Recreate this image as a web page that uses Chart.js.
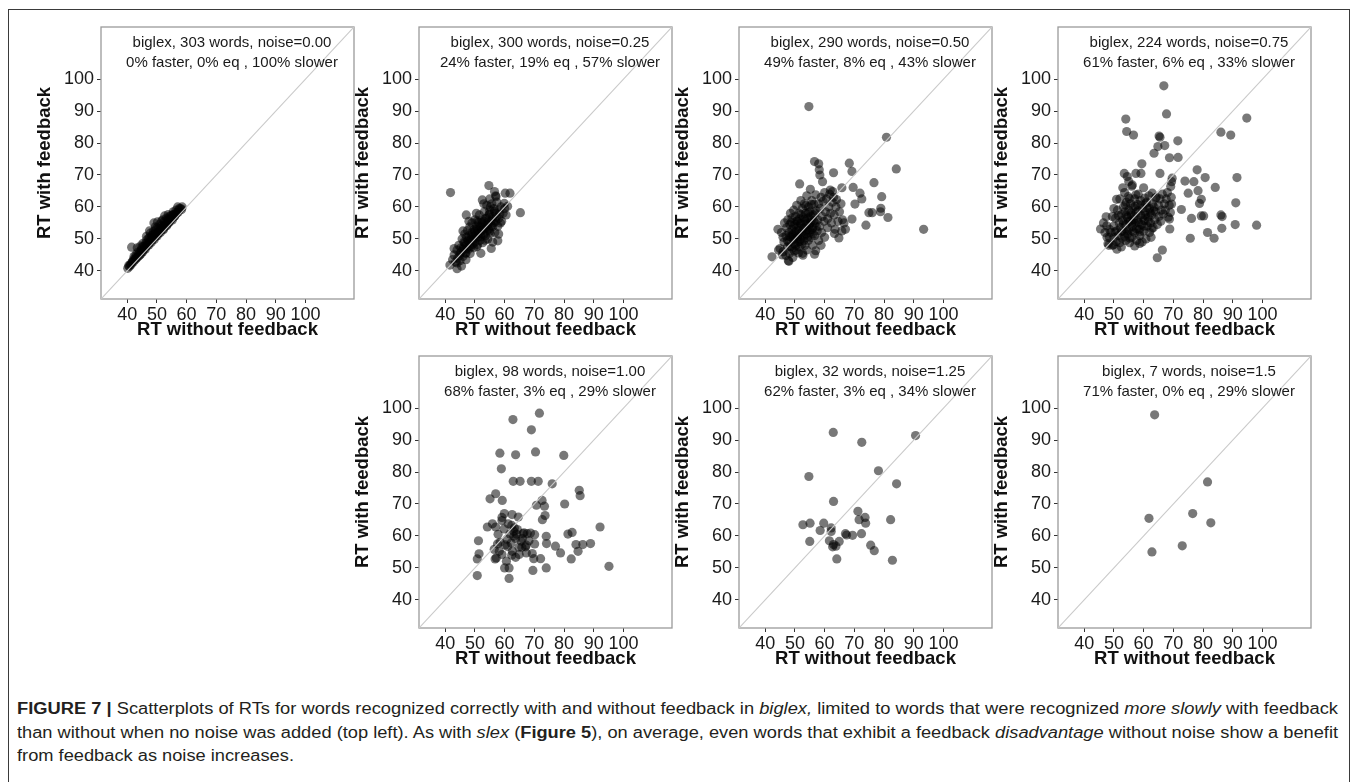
<!DOCTYPE html>
<html>
<head>
<meta charset="utf-8">
<script src="https://cdn.jsdelivr.net/npm/chart.js@4.4.0/dist/chart.umd.min.js"></script>
<style>
    body { margin: 0; width: 1358px; height: 782px; background: #fff; position: relative; overflow: hidden;
           font-family: "Liberation Sans", Arial, sans-serif; }
    #frame { position: absolute; left: 8px; top: 9px; width: 1342px; height: 820px; border: 1px solid #3a3a3a; box-sizing: border-box; }
    .panel { position: absolute; }
    .caption { position: absolute; left: 17px; font-size: 16px; line-height: 22px; color: #231f20;
               white-space: nowrap; transform-origin: left center; }
</style>
</head>
<body>
<div id="frame"></div>
<div class="panel" style="left:1px;top:0px"><canvas id="p1" width="363" height="344"></canvas></div>
<div class="panel" style="left:319px;top:0px"><canvas id="p2" width="363" height="344"></canvas></div>
<div class="panel" style="left:639px;top:0px"><canvas id="p3" width="363" height="344"></canvas></div>
<div class="panel" style="left:958px;top:0px"><canvas id="p4" width="363" height="344"></canvas></div>
<div class="panel" style="left:319px;top:329px"><canvas id="p5" width="363" height="344"></canvas></div>
<div class="panel" style="left:639px;top:329px"><canvas id="p6" width="363" height="344"></canvas></div>
<div class="panel" style="left:958px;top:329px"><canvas id="p7" width="363" height="344"></canvas></div>

<div class="caption" id="cap1" style="top:698px"><b>FIGURE 7 |</b> Scatterplots of RTs for words recognized correctly with and without feedback in <i>biglex,</i> limited to words that were recognized <i>more slowly</i> with feedback</div>
<div class="caption" id="cap2" style="top:721.5px">than without when no noise was added (top left). As with <i>slex</i> (<b>Figure 5</b>), on average, even words that exhibit a feedback <i>disadvantage</i> without noise show a benefit</div>
<div class="caption" id="cap3" style="top:745px">from feedback as noise increases.</div>

<script>
// ---- data ----
const axisMin = 31.2;
const axisMax = 116.3;
const tickValues = [40, 50, 60, 70, 80, 90, 100];
const xTitle = 'RT without feedback';
const yTitle = 'RT with feedback';

const noteTitles = [
    'biglex, 303 words, noise=0.00',
    'biglex, 300 words, noise=0.25',
    'biglex, 290 words, noise=0.50',
    'biglex, 224 words, noise=0.75',
    'biglex, 98 words, noise=1.00',
    'biglex, 32 words, noise=1.25',
    'biglex, 7 words, noise=1.5'
];
const noteStats = [
    '0% faster, 0% eq , 100% slower',
    '24% faster, 19% eq , 57% slower',
    '49% faster, 8% eq , 43% slower',
    '61% faster, 6% eq , 33% slower',
    '68% faster, 3% eq , 29% slower',
    '62% faster, 3% eq , 34% slower',
    '71% faster, 0% eq , 29% slower'
];

// [RT without feedback, RT with feedback]
const noise000 = [
    [40.2,40.8],[40.5,41.6],[41,42],[41.3,41.9],[41.5,47.4],[41.8,43],[42,42.7],[42.3,44.5],[42.6,43.4],[43,43.8],
    [43,45.2],[43.4,47.2],[43.8,44.6],[44,45.5],[44.3,46.2],[44.6,45.3],[45,46],[45,47.5],[45.3,48.6],[45.7,46.8],
    [46,47.2],[46.2,48.5],[46.5,49.6],[46.8,47.9],[47,48.4],[47.2,50.1],[47.5,52.5],[47.7,49],[48,49.5],[48.2,51],
    [48.5,49.8],[48.8,52.3],[49,50.4],[49,55],[49.3,51.6],[49.6,50.8],[50,51.4],[50,53.5],[50.3,52.2],[50.6,51.7],
    [51,52.5],[51,54.6],[51.3,53.2],[51.6,55.6],[52,53],[52,56],[52.3,54],[52.7,53.8],[53,55],[53.2,56.5],
    [53.5,54.6],[53.8,55.8],[54,55.2],[54.3,57],[54.6,56],[55,56.3],[55.3,57.5],[55.5,58.5],[55.8,57],[56.2,57.6],
    [56.5,58.2],[57,60],[57.4,59],[58,59.5],[58.3,59.2],
    [40.8,41.4],[41.6,42.6],[42.2,43.6],[42.8,44.2],[43.3,44.1],[43.6,45.8],[44.2,44.9],[44.8,46.6],[45.2,45.9],[45.6,47.6],
    [46.1,46.8],[46.4,48.1],[46.9,49],[47.3,48.1],[47.6,50.5],[48.1,48.9],[48.4,50.6],[48.7,51.4],[49.1,49.8],[49.4,52.6],
    [49.8,51.2],[50.1,50.9],[50.5,53.2],[50.8,52.6],[51.2,52],[51.5,54.2],[51.9,53.6],[52.2,52.9],[52.5,55.3],[52.9,54.5],
    [53.3,54.1],[53.6,56.2],[54.1,55.1],[54.4,56.3],[54.8,57.3],[55.2,55.9],[55.6,57.6],[56,57.1],[56.4,59],[56.8,58.1],
    [57.2,58.4],[57.6,59.6],[58.5,60],[44.5,47.8],[47.8,51.8],[50.2,55.3],[53.8,57.6],[49.5,53.8],[46.5,50.8],[52.6,57.2]
];
const noise025 = [
    [41.8,64.5],[54.7,66.7],[56.6,64.8],[60.2,64.3],[61.8,64.3],[65.3,58.2],[57.1,63.2],[52.5,62.2],[57.7,49.4],[55.5,47],
    [44,40.7],[41.6,41.8],[47.1,57.5],[59.9,61.1],
    [42.5,43.5],[43,45],[43.5,42.8],[44,46.5],[44.2,44],[44.6,48],[45,43.2],[45,45.5],[45.3,47.2],[45.7,50],
    [46,44.5],[46,46.8],[46.3,49],[46.6,51.5],[47,45.5],[47,48],[47.2,50.5],[47.5,52.6],[47.8,46.8],[48,49.2],
    [48,51],[48.3,53.8],[48.6,47.5],[48.8,50],[49,52],[49,55],[49.3,48.3],[49.5,50.8],[49.7,53],[50,56],
    [50,49],[50.2,51.5],[50.5,54],[50.7,47.6],[51,50.5],[51,52.8],[51.2,55.2],[51.5,57.5],[51.7,49.5],[52,51.5],
    [52,54],[52.3,56],[52.6,48.8],[52.8,53],[53,55.5],[53.2,58.5],[53.5,51],[53.7,53.5],[54,56.5],[54,60.5],
    [54.3,50],[54.5,54.5],[54.7,57.5],[55,52.5],[55,59],[55.4,55.5],[55.7,61],[56,53.8],[56,57],[56.4,59.5],
    [56.7,52],[57,55.5],[57,58],[57.4,61.5],[57.7,54],[58,56.5],[58,59],[58.4,57.8],[58.8,60],[59,55.5],
    [59.5,58],[60,59.5],[60.5,57.5],[61,60.2],[44,42.5],[45.5,41.5],[43,47],[46,52.5],[48,55.5],[50.5,58],
    [53,61],[52,45.5],[47,43.5],[56,49],[58,51.5],[55,62.5],[57,63.5],
    [45.5,46],[46.2,47.5],[46.8,45.6],[47.3,47],[47.6,49.4],[48.2,47.9],[48.5,49.6],[48.9,51.3],[49.2,49.7],[49.6,47.2],
    [49.9,52.4],[50.3,50.3],[50.6,53],[50.9,48.2],[51.3,51.6],[51.6,53.7],[51.9,50.6],[52.2,52.7],[52.5,55],[52.9,51.3],
    [53.2,53.8],[53.6,56.4],[53.9,52.4],[54.2,55],[54.6,53],[54.9,57.8],[55.2,51.8],[55.6,54.2],[55.9,56.2],[56.3,55],
    [56.6,58.6],[57.2,56.8],[44.8,44.8],[46.6,48.8],[48.4,45.4],[50.8,55.6],[53.4,49.6],[55.2,60],[58.6,55]
];
const noise050 = [
    [54.7,91.4],[80.8,81.8],[84.1,71.9],[93.3,53],[68.3,73.7],[69.2,71.1],[63,70.7],[56.6,74.2],[58,73.5],[58.2,71.6],
    [58.4,70],[59.3,67.9],[76.6,67.6],[79.2,63.2],[78.9,59.6],[78.8,58.5],[74.9,58.2],[76,58.2],[81.3,56.7],[73.9,54.3],
    [69.2,56.2],[69.6,66.1],[71.9,64.3],[70.2,60.9],[72.5,62.5],[65.8,66],[62.7,64.8],[61.9,65.3],[51.6,67.2],[44.3,53],
    [42.3,44.4],[48,43],[52.7,44.9],[56.6,45.2],[58.8,48],[63.3,51.7],[66.5,55],[67,53],
    [45,47],[45.5,52],[46,46],[46.3,49],[46.5,55],[47,44.8],[47,51],[47.2,53.5],[47.5,47.5],[47.6,56],
    [48,49],[48,52],[48.2,45.5],[48.3,54.5],[48.5,58],[48.7,50.5],[49,47],[49,53],[49,56.5],[49.3,44.2],
    [49.4,51.5],[49.6,59],[49.8,48.5],[50,54.5],[50,50],[50.2,57],[50.4,46.5],[50.5,52.5],[50.6,60.5],[50.8,55.5],
    [51,49],[51,51.2],[51.2,53.8],[51.4,58],[51.5,47.5],[51.6,56.3],[51.8,50],[52,62],[52,54.8],[52.2,52],
    [52.3,48.3],[52.5,59.5],[52.6,45.5],[52.8,56.8],[53,50.8],[53,53.5],[53.2,61],[53.4,48],[53.5,55.5],[53.6,58],
    [53.8,51.5],[54,63.5],[54,46.5],[54.2,53],[54.4,56.5],[54.5,49.5],[54.6,60],[54.8,54.5],[55,52],[55,58.5],
    [55.2,65.5],[55.4,50.5],[55.5,55.8],[55.7,62],[56,48],[56,53.5],[56.2,57.5],[56.4,60.8],[56.6,51],[56.8,55],
    [57,63.8],[57,46.3],[57.2,58.8],[57.5,52.5],[57.7,56],[58,61],[58,49.5],[58.3,54],[58.5,59.5],[58.8,63],
    [59,52],[59.2,57],[59.5,61.8],[59.8,55.5],[60,64.5],[60,50.5],[60.3,58.5],[60.6,62.5],[61,53.5],[61,56.3],
    [61.4,60],[61.7,64],[62,58],[62.3,55],[62.6,61.5],[63,63],[63.2,57.5],[63.5,53],[63.8,60],[64,62.3],
    [64.5,55.5],[65,58.5],[65.5,61],[65.8,52.5],[66,56],[64.8,50.3],[47.8,43.2],[46,50.5],[44.5,46.5],[45.8,45],
    [47.5,49.5],[48.2,50.8],[48.6,47.6],[49,51.2],[49.4,49.8],[49.6,54],[50,52.2],[50.3,48],[50.6,55.6],[50.9,50.6],
    [51.3,52.6],[51.6,49.2],[51.9,54.8],[52.1,57.6],[52.4,51],[52.7,53.4],[53,49.4],[53.3,56.2],[53.6,52.4],[53.9,54.6],
    [54.2,50.4],[54.5,58.2],[54.8,52.8],[55.1,55],[55.4,57.2],[55.8,53],[56.1,51.6],[56.4,55.6],[56.8,58],[57.2,53.8],
    [49.8,46.2],[51.2,45.6],[48.8,55.2],[53.6,60.4],[55.6,60.8]
];
const noise075 = [
    [66.8,97.9],[67.7,89.1],[54,87.5],[54.3,83.6],[56.6,82.5],[94.7,87.8],[86,83.4],[89.3,82.5],[65.2,82.2],[65.5,81.8],
    [67.1,79.2],[64.8,78.9],[63.5,76.8],[71.5,80.7],[68.7,75.4],[71.6,75.5],[59.4,73.5],[53.5,70.5],[54.5,69.5],[57.4,70.5],
    [59.1,70.5],[56.2,66.9],[65.5,70.5],[69.6,69],[69.4,67.9],[69.1,66.4],[73.9,68.1],[76.9,67.9],[78,71.6],[80.7,69.2],
    [84.1,66.1],[91.4,69.2],[75,64.3],[78.3,65.1],[79.4,62.4],[78.8,61.1],[76.1,56.4],[79.4,57.2],[80.2,57.2],[86,57.5],
    [86.4,57],[91,61.3],[90.8,54.5],[98,54.3],[86.3,53.3],[81.5,52],[83.7,50.2],[75.7,50.2],[68.8,53.1],[66.3,46.5],
    [64.6,44.1],[45.5,53.1],[47.6,54.1],[47.4,56.9],[50.9,62.4],[47.7,50.5],[48.3,48],[49.9,48.2],[60.7,61.1],[62.9,64.3],
    [64,62.8],[68.7,56.2],[69.4,60.9],[72.7,59.2],
    [48,48.5],[48.5,50.5],[49,52],[49.5,48],[50,54],[50,50.5],[50.5,56.5],[50.8,49.2],[51,52.5],[51.2,59],
    [51.5,51],[51.8,55],[52,48.8],[52,62.5],[52.3,53.5],[52.5,57.5],[52.8,50.2],[53,55.8],[53.2,60],[53.5,52.2],
    [53.6,64.5],[53.8,58.5],[54,49.5],[54,54.5],[54.2,61.5],[54.5,56.8],[54.6,51.5],[54.8,63.2],[55,53],[55,59],
    [55.3,48.8],[55.5,55.5],[55.6,61],[55.8,57.3],[56,50.5],[56,66.5],[56.2,53.8],[56.5,59.8],[56.7,56],[57,62.5],
    [57,52],[57.3,54.8],[57.5,58.3],[57.7,49.5],[58,60.8],[58,56],[58.2,64],[58.5,53],[58.7,51],[59,57.5],
    [59,62],[59.3,54.5],[59.6,59.5],[60,52.5],[60,66],[60.2,55.8],[60.5,58.5],[60.8,50],[61,61.5],[61.2,54],
    [61.5,56.8],[61.8,63.5],[62,52],[62,59.5],[62.3,55],[62.6,57.5],[63,61],[63.2,53.5],[63.5,60],[63.8,56],
    [64,58.5],[64.3,63],[64.6,54.5],[65,60.5],[65.2,57],[65.5,62.5],[65.8,55.5],[66,59],[66.3,64],[66.6,57.8],
    [67,61],[67.3,59],[67.6,62.5],[68,64.5],[68.3,56.8],[68.6,60.5],[69,58.3],[69.3,63],[48.5,53],[47,52],
    [49.5,57],[51,46.8],[52.5,47.5],[50,59.5],[53,66],[55,68],[46.5,55],[57,47.8],[59.5,49],[62.5,50.5],
    [52.6,52.4],[53.2,54.8],[53.6,50.8],[54.1,57.4],[54.4,52.6],[54.9,55.6],[55.4,50.2],[55.7,58.2],[56.1,55],[56.4,52.4],
    [56.8,57.2],[57.1,60.2],[57.6,53.2],[58.1,58.8],[58.4,55],[58.8,52.2],[59.2,60.6],[59.7,56.6],[60.1,54],[60.6,57.4],
    [61.1,59.8],[61.6,55.6],[62.2,58.2],[62.7,53.2],[63.4,58.8],[57.4,63.8],[55.2,62.6],[53.9,60.6],[60.4,62.8],[58.7,48.6],
    [51.5,57.3],[50.4,52.2]
];
const noise100 = [
    [62.8,96.4],[71.7,98.4],[69,93.2],[58.4,85.9],[63.7,85.4],[70.4,86.3],[79.9,85.2],[58.9,81],[62.9,77.1],[65.2,77.1],
    [69,77.1],[71.3,77.1],[76,76.3],[57,73.2],[55.1,71.6],[59.2,71.1],[85.1,74.3],[85.4,72.6],[72.6,71.1],[70.7,69.6],
    [73.4,69.3],[80.2,70],[73.6,66.4],[72.7,65.1],[59.9,67],[59.1,65.8],[62.5,66.7],[64.6,65.9],[59.1,64.8],[54.2,62.8],
    [57,62.8],[55.9,63.8],[62.4,63.3],[63.1,61.5],[64.3,62],[63.1,59.9],[63.7,59.2],[66.2,60.7],[67.6,60.7],[68.7,60.9],
    [66,59.2],[65.5,58.4],[57.6,57.5],[58.2,55.2],[59.1,54.2],[61,56.7],[56.8,52.8],[57.2,53.1],[60.6,52.1],[51.2,58.5],
    [51.4,54.4],[50.8,52.8],[50.8,47.6],[60,50],[61.5,50],[61.5,46.7],[62.6,55.2],[63.7,53.3],[64.8,56.5],[67.3,57.1],
    [67.3,54.7],[69.3,54.5],[70.1,57.5],[70.1,60.4],[69.8,52.9],[72.1,52.9],[69.5,49.2],[74,59.9],[74.1,57.6],[74,50],
    [77.1,56.8],[78.8,54.7],[81.3,60.6],[82.7,61.1],[82.4,52.8],[84,57.3],[84.7,55.2],[86.3,57.3],[88.9,57.6],[92.1,62.8],
    [95.1,50.5],[62.2,57.8],[64,60.6],[65.8,56.5],[60.2,57.2],[58.5,58],[63.3,62.5],[67,56.6],[56.5,55.8],[61.8,60.6],
    [60.8,59],[64.9,54.2],[59.8,62.2],[68.2,58.5],[62.4,54],[66.5,61],[57.8,60.5],[61.2,63.8]
];
const noise125 = [
    [62.9,92.4],[72.5,89.3],[90.6,91.4],[78.1,80.4],[84.2,76.3],[54.7,78.6],[63,70.8],[71.2,67.7],[71.6,65.1],[73.6,65.8],
    [73.8,64],[72.4,60.7],[82.2,65.1],[52.7,63.5],[55.1,64],[59.7,64],[62.2,62.5],[58.5,61.7],[62.2,61.4],[55,58.3],
    [61.6,58.5],[63,57.3],[63.8,56.8],[64.9,58.3],[64.1,52.8],[67,60.7],[67.4,60.3],[69.4,60.2],[75.5,57.1],[76.7,55.4],
    [82.8,52.4],[62.7,56.6]
];
const noise150 = [
    [63.7,97.9],[81.5,76.9],[76.5,67],[61.8,65.5],[82.6,64.1],[73,56.9],[62.8,55]
];

const panelSeries = [noise000, noise025, noise050, noise075, noise100, noise125, noise150];
const panelIds = ['p1', 'p2', 'p3', 'p4', 'p5', 'p6', 'p7'];

// ---- plugins ----
const boxPlugin = {
    id: 'panelBox',
    beforeDatasetsDraw(chart) {
        const { ctx, chartArea: a } = chart;
        ctx.save();
        ctx.strokeStyle = '#9a9a9a';
        ctx.lineWidth = 1.3;
        ctx.strokeRect(a.left, a.top, a.right - a.left, a.bottom - a.top);
        ctx.restore();
    }
};

const notePlugin = {
    id: 'panelNote',
    afterDatasetsDraw(chart, args, opts) {
        const { ctx, chartArea: a } = chart;
        ctx.save();
        ctx.fillStyle = '#1a1a1a';
        ctx.font = '15px "Liberation Sans", Arial, sans-serif';
        ctx.textAlign = 'center';
        ctx.textBaseline = 'middle';
        (opts.lines || []).forEach((line, i) => {
            ctx.fillText(line, a.left + 131, a.top + 16 + i * 19.5);
        });
        ctx.restore();
    }
};

Chart.defaults.font.family = '"Liberation Sans", Arial, sans-serif';

function axisOptions(isX) {
    return {
        type: 'linear',
        min: axisMin,
        max: axisMax,
        afterBuildTicks: scale => { scale.ticks = tickValues.map(v => ({ value: v })); },
        afterFit: scale => {
            if (isX) scale.height = 45; else scale.width = 100;
        },
        border: { display: false },
        grid: { drawOnChartArea: false, tickLength: 4, color: '#333', lineWidth: 1 },
        ticks: {
            color: '#1a1a1a',
            font: { size: 18 },
            padding: isX ? 1 : 3,
            autoSkip: false,
            maxRotation: 0,
            callback: v => String(v)
        },
        title: {
            display: true,
            text: isX ? xTitle : yTitle,
            color: '#111',
            font: { size: 18.5, weight: 'bold' },
            padding: isX ? { top: 0, bottom: 3 } : { top: 33, bottom: 0 }
        }
    };
}

function makePanel(index) {
    const pts = panelSeries[index];
    new Chart(document.getElementById(panelIds[index]), {
        type: 'scatter',
        data: {
            datasets: [
                {
                    data: [{ x: axisMin, y: axisMin }, { x: axisMax, y: axisMax }],
                    showLine: true,
                    borderColor: '#c9c9c9',
                    borderWidth: 1.1,
                    pointRadius: 0,
                    order: 0
                },
                {
                    data: pts.map(p => ({ x: p[0], y: p[1] })),
                    backgroundColor: 'rgba(0, 0, 0, 0.53)',
                    borderWidth: 0,
                    pointRadius: 4.6,
                    order: 1
                }
            ]
        },
        options: {
            responsive: false,
            animation: false,
            events: [],
            layout: { padding: { top: 27, right: 10, left: 0, bottom: 0 } },
            plugins: {
                legend: { display: false },
                tooltip: { enabled: false },
                panelNote: { lines: [noteTitles[index], noteStats[index]] }
            },
            scales: {
                x: axisOptions(true),
                y: axisOptions(false)
            }
        },
        plugins: [boxPlugin, notePlugin]
    });
}

panelIds.forEach((_, i) => makePanel(i));

// stretch caption lines to the column width
const capWidth = 1321;
['cap1', 'cap2'].forEach(id => {
    const el = document.getElementById(id);
    const w = el.scrollWidth;
    el.style.transform = 'scaleX(' + (capWidth / w) + ')';
    if (id === 'cap2') {
        document.getElementById('cap3').style.transform = 'scaleX(' + (capWidth / w) + ')';
    }
});
</script>
</body>
</html>
